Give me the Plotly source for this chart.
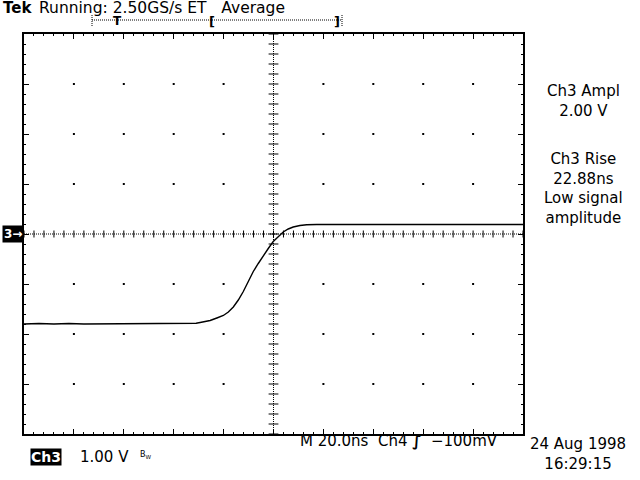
import numpy as np
import plotly.graph_objects as go

# Ch3 trace (time in ns from centre, volts from ground marker)
time_ns = [-100, -94, -88, -82, -76, -70, -64, -58, -52, -46, -40, -35, -31,
           -29.4, -25.4, -22.7, -20.1, -18.1, -16.1, -14.1, -12.1, -10.1, -8.1,
           -6.1, -4.1, -2.1, -0.1, 1.9, 3.9, 5.9, 7.9, 10.6, 13.3, 17.3, 19,
           22, 30, 40, 50, 60, 70, 80, 90, 100]
ch3_volts = [-1.80, -1.79, -1.80, -1.79, -1.80, -1.80, -1.79, -1.80, -1.79,
             -1.80, -1.80, -1.79, -1.785, -1.77, -1.73, -1.68, -1.63, -1.56,
             -1.46, -1.32, -1.15, -0.95, -0.75, -0.59, -0.43, -0.29, -0.15,
             -0.05, 0.04, 0.10, 0.14, 0.17, 0.185, 0.19, 0.185, 0.19, 0.19,
             0.19, 0.19, 0.19, 0.19, 0.19, 0.19, 0.19]

x_divs = [-80, -60, -40, -20, 20, 40, 60, 80]
y_divs = [-3, -2, -1, 1, 2, 3]

header = "Running: 2.50GS/s ET   Average"
meas_ampl = "Ch3 Ampl<br>2.00 V"
meas_rise = "Ch3 Rise<br>22.88ns<br>Low signal<br>amplitude"
horiz_info = "M 20.0ns  Ch4 <b>\u222b</b>  \u2212100mV"
date_text = "24 Aug 1998<br>16:29:15"

FONT = "DejaVu Sans"
L, T, W, H = 24, 34, 499, 400


def px(x):
    return (x - L) / W


def py(y):
    return (T + H - y) / H


fig = go.Figure()

# graticule dots at division intersections
gx, gy = np.meshgrid(x_divs, y_divs)
fig.add_trace(go.Scatter(x=gx.ravel(), y=gy.ravel(), mode="markers",
                         marker=dict(symbol="square", size=2, color="black"),
                         hoverinfo="skip"))

# centre crosshair minor ticks
cx = np.arange(-100, 101, 4)
cy = np.arange(-4, 4.01, 0.2)
fig.add_trace(go.Scatter(x=cx, y=np.zeros_like(cx), mode="markers",
                         marker=dict(symbol="line-ns", size=5,
                                     line=dict(width=1, color="black")),
                         hoverinfo="skip"))
fig.add_trace(go.Scatter(x=np.zeros_like(cy), y=cy, mode="markers",
                         marker=dict(symbol="line-ew", size=7,
                                     line=dict(width=1, color="black")),
                         hoverinfo="skip"))

fig.add_trace(go.Scatter(x=time_ns, y=ch3_volts, mode="lines",
                         line=dict(color="black", width=1.4),
                         name="Ch3"))

fig.add_shape(type="line", xref="x", yref="y", x0=0, x1=0, y0=-4, y1=4,
              line=dict(color="black", width=1, dash="1px,1px"))
fig.add_shape(type="line", xref="x", yref="y", x0=-100, x1=100, y0=0, y1=0,
              line=dict(color="black", width=1, dash="1px,1px"))

# record view bar above the graticule
fig.add_shape(type="line", xref="paper", yref="paper", x0=px(92), x1=px(342),
              y0=py(20), y1=py(20), line=dict(color="black", width=1, dash="1px,1px"))
for bx in (92, 342):
    fig.add_shape(type="line", xref="paper", yref="paper", x0=px(bx), x1=px(bx),
                  y0=py(15), y1=py(27), line=dict(color="black", width=1, dash="1px,1px"))

ann = [
    dict(x=px(1), y=py(8), text="<b>Tek</b>", size=15),
    dict(x=px(37), y=py(8), text=header, size=15.5),
    dict(x=px(111), y=py(21), text="<b>T</b>", size=12),
    dict(x=px(207), y=py(21), text="<b>[</b>", size=13),
    dict(x=px(332), y=py(21), text="<b>]</b>", size=13),
    dict(x=px(298), y=py(441), text=horiz_info, size=15),
    dict(x=px(528), y=py(454), text=date_text, size=15),
    dict(x=px(78), y=py(457), text="1.00 V", size=15),
    dict(x=px(138), y=py(455), text="B<sub>W</sub>", size=8),
]
for a in ann:
    fig.add_annotation(x=a["x"], y=a["y"], xref="paper", yref="paper",
                       text=a["text"], showarrow=False, xanchor="left",
                       yanchor="middle", font=dict(family=FONT, size=a["size"],
                                                   color="black"))

fig.add_annotation(x=px(583), y=py(101), xref="paper", yref="paper",
                   text=meas_ampl, showarrow=False, align="center",
                   xanchor="center", yanchor="middle",
                   font=dict(family=FONT, size=15, color="black"))
fig.add_annotation(x=px(583), y=py(188), xref="paper", yref="paper",
                   text=meas_rise, showarrow=False, align="center",
                   xanchor="center", yanchor="middle",
                   font=dict(family=FONT, size=15, color="black"))

# inverse-video labels
fig.add_annotation(x=px(2), y=0, xref="paper", yref="y", text="<b>3\u2192</b>",
                   showarrow=False, xanchor="left", yanchor="middle",
                   bgcolor="black", borderpad=1,
                   font=dict(family=FONT, size=12, color="white"))
fig.add_annotation(x=px(30), y=py(457), xref="paper", yref="paper",
                   text="<b>Ch3</b>", showarrow=False, xanchor="left",
                   yanchor="middle", bgcolor="black", borderpad=0,
                   font=dict(family=FONT, size=14, color="white"))

axis_common = dict(showgrid=False, zeroline=False, showticklabels=False,
                   showline=True, linecolor="black", linewidth=1.5,
                   mirror="allticks", ticks="inside", ticklen=5,
                   tickcolor="black", fixedrange=True)
fig.update_xaxes(range=[-100, 100], dtick=20, tick0=0,
                 minor=dict(dtick=4, ticks="inside", ticklen=2, tickcolor="black"),
                 **axis_common)
fig.update_yaxes(range=[-4, 4], dtick=1, tick0=0,
                 minor=dict(dtick=0.2, ticks="inside", ticklen=2, tickcolor="black"),
                 **axis_common)

fig.update_layout(width=640, height=480, showlegend=False,
                  margin=dict(l=L, r=640 - L - W, t=T, b=480 - T - H),
                  paper_bgcolor="white", plot_bgcolor="white")

fig.write_html("out.html", config={"displayModeBar": False},
               post_script="document.body.style.margin='0';")
